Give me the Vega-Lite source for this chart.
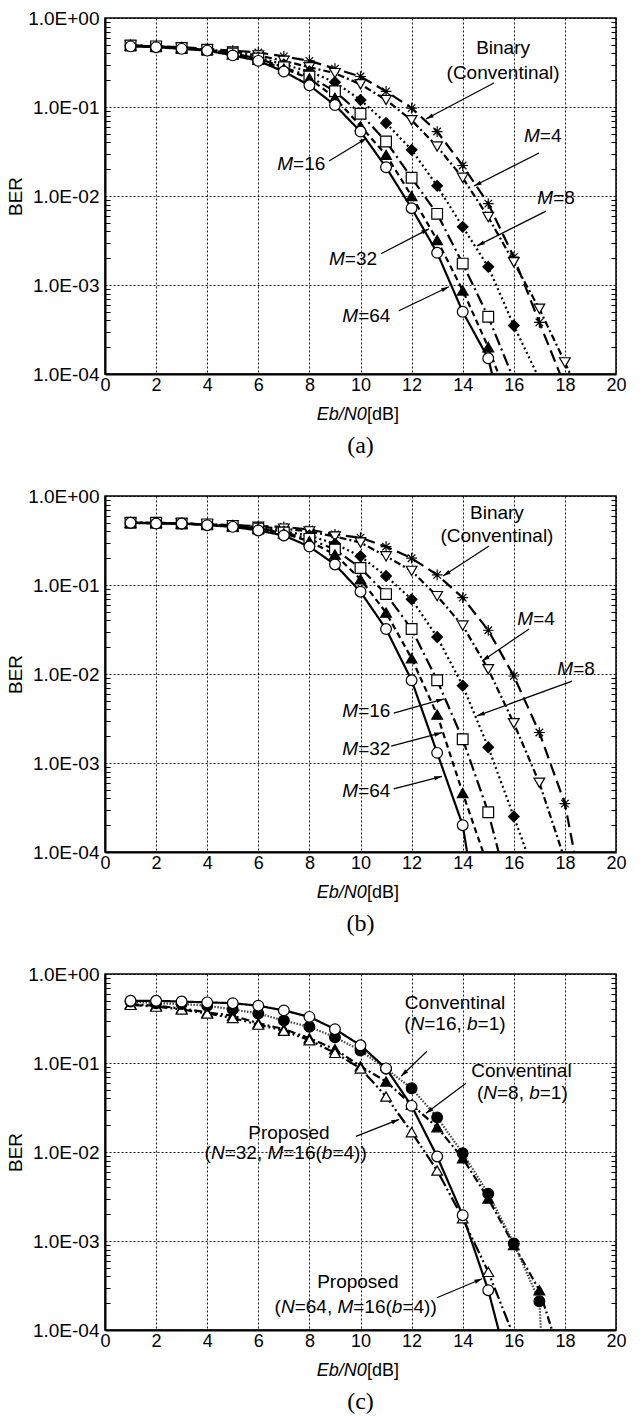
{
"$schema":"https://vega.github.io/schema/vega-lite/v6.json",
"background":"white",
"padding":{"left":5,"top":8,"right":5,"bottom":5},
"spacing":27,
"config":{"font":"Liberation Sans","view":{"stroke":"#000","strokeWidth":1.5},
"axis":{"labelColor":"#000","labelFont":"Liberation Sans","titleFont":"Liberation Sans","titleColor":"#000","domainColor":"#000","gridColor":"#000","gridDash":[2,2],"gridOpacity":0.9,"gridWidth":1,"tickColor":"#000"}},
"datasets":{
"curves":[
{"p":"a","s":"Binary","x":1,"y":0.49},{"p":"a","s":"Binary","x":2,"y":0.48},{"p":"a","s":"Binary","x":3,"y":0.47},{"p":"a","s":"Binary","x":4,"y":0.45},{"p":"a","s":"Binary","x":5,"y":0.43},{"p":"a","s":"Binary","x":6,"y":0.41},{"p":"a","s":"Binary","x":7,"y":0.37},{"p":"a","s":"Binary","x":8,"y":0.33},{"p":"a","s":"Binary","x":9,"y":0.27},{"p":"a","s":"Binary","x":10,"y":0.22},{"p":"a","s":"Binary","x":11,"y":0.15},{"p":"a","s":"Binary","x":12,"y":0.097},{"p":"a","s":"Binary","x":13,"y":0.053},{"p":"a","s":"Binary","x":14,"y":0.022},{"p":"a","s":"Binary","x":15,"y":0.0082},{"p":"a","s":"Binary","x":16,"y":0.00206},{"p":"a","s":"Binary","x":17,"y":0.00038},{"p":"a","s":"Binary","x":19,"y":0.000014},
{"p":"a","s":"M=4","x":1,"y":0.49},{"p":"a","s":"M=4","x":2,"y":0.48},{"p":"a","s":"M=4","x":3,"y":0.46},{"p":"a","s":"M=4","x":4,"y":0.44},{"p":"a","s":"M=4","x":5,"y":0.42},{"p":"a","s":"M=4","x":6,"y":0.38},{"p":"a","s":"M=4","x":7,"y":0.33},{"p":"a","s":"M=4","x":8,"y":0.28},{"p":"a","s":"M=4","x":9,"y":0.24},{"p":"a","s":"M=4","x":10,"y":0.18},{"p":"a","s":"M=4","x":11,"y":0.12},{"p":"a","s":"M=4","x":12,"y":0.071},{"p":"a","s":"M=4","x":13,"y":0.036},{"p":"a","s":"M=4","x":14,"y":0.016},{"p":"a","s":"M=4","x":15,"y":0.0058},{"p":"a","s":"M=4","x":16,"y":0.0018},{"p":"a","s":"M=4","x":17,"y":0.00054},{"p":"a","s":"M=4","x":18,"y":0.000135},{"p":"a","s":"M=4","x":19,"y":0.000032},
{"p":"a","s":"M=8","x":1,"y":0.49},{"p":"a","s":"M=8","x":2,"y":0.48},{"p":"a","s":"M=8","x":3,"y":0.46},{"p":"a","s":"M=8","x":4,"y":0.44},{"p":"a","s":"M=8","x":5,"y":0.40},{"p":"a","s":"M=8","x":6,"y":0.36},{"p":"a","s":"M=8","x":7,"y":0.30},{"p":"a","s":"M=8","x":8,"y":0.25},{"p":"a","s":"M=8","x":9,"y":0.19},{"p":"a","s":"M=8","x":10,"y":0.12},{"p":"a","s":"M=8","x":11,"y":0.066},{"p":"a","s":"M=8","x":12,"y":0.033},{"p":"a","s":"M=8","x":13,"y":0.013},{"p":"a","s":"M=8","x":14,"y":0.0045},{"p":"a","s":"M=8","x":15,"y":0.0016},{"p":"a","s":"M=8","x":16,"y":0.00035},{"p":"a","s":"M=8","x":18,"y":0.000022},
{"p":"a","s":"M=16","x":1,"y":0.49},{"p":"a","s":"M=16","x":2,"y":0.48},{"p":"a","s":"M=16","x":3,"y":0.46},{"p":"a","s":"M=16","x":4,"y":0.44},{"p":"a","s":"M=16","x":5,"y":0.40},{"p":"a","s":"M=16","x":6,"y":0.35},{"p":"a","s":"M=16","x":7,"y":0.28},{"p":"a","s":"M=16","x":8,"y":0.22},{"p":"a","s":"M=16","x":9,"y":0.15},{"p":"a","s":"M=16","x":10,"y":0.084},{"p":"a","s":"M=16","x":11,"y":0.041},{"p":"a","s":"M=16","x":12,"y":0.016},{"p":"a","s":"M=16","x":13,"y":0.0063},{"p":"a","s":"M=16","x":14,"y":0.00174},{"p":"a","s":"M=16","x":15,"y":0.00044},{"p":"a","s":"M=16","x":17,"y":0.000017},
{"p":"a","s":"M=32","x":1,"y":0.49},{"p":"a","s":"M=32","x":2,"y":0.48},{"p":"a","s":"M=32","x":3,"y":0.46},{"p":"a","s":"M=32","x":4,"y":0.44},{"p":"a","s":"M=32","x":5,"y":0.39},{"p":"a","s":"M=32","x":6,"y":0.34},{"p":"a","s":"M=32","x":7,"y":0.27},{"p":"a","s":"M=32","x":8,"y":0.21},{"p":"a","s":"M=32","x":9,"y":0.127},{"p":"a","s":"M=32","x":10,"y":0.061},{"p":"a","s":"M=32","x":11,"y":0.029},{"p":"a","s":"M=32","x":12,"y":0.01},{"p":"a","s":"M=32","x":13,"y":0.0032},{"p":"a","s":"M=32","x":14,"y":0.00087},{"p":"a","s":"M=32","x":15,"y":0.0002},{"p":"a","s":"M=32","x":16,"y":0.000035},
{"p":"a","s":"M=64","x":1,"y":0.48},{"p":"a","s":"M=64","x":2,"y":0.47},{"p":"a","s":"M=64","x":3,"y":0.45},{"p":"a","s":"M=64","x":4,"y":0.43},{"p":"a","s":"M=64","x":5,"y":0.38},{"p":"a","s":"M=64","x":6,"y":0.33},{"p":"a","s":"M=64","x":7,"y":0.25},{"p":"a","s":"M=64","x":8,"y":0.175},{"p":"a","s":"M=64","x":9,"y":0.105},{"p":"a","s":"M=64","x":10,"y":0.053},{"p":"a","s":"M=64","x":11,"y":0.021},{"p":"a","s":"M=64","x":12,"y":0.0073},{"p":"a","s":"M=64","x":13,"y":0.0023},{"p":"a","s":"M=64","x":14,"y":0.0005},{"p":"a","s":"M=64","x":15,"y":0.00015},{"p":"a","s":"M=64","x":16,"y":0.00001},
{"p":"b","s":"Binary","x":1,"y":0.5},{"p":"b","s":"Binary","x":2,"y":0.5},{"p":"b","s":"Binary","x":3,"y":0.49},{"p":"b","s":"Binary","x":4,"y":0.48},{"p":"b","s":"Binary","x":5,"y":0.47},{"p":"b","s":"Binary","x":6,"y":0.46},{"p":"b","s":"Binary","x":7,"y":0.45},{"p":"b","s":"Binary","x":8,"y":0.42},{"p":"b","s":"Binary","x":9,"y":0.37},{"p":"b","s":"Binary","x":10,"y":0.34},{"p":"b","s":"Binary","x":11,"y":0.27},{"p":"b","s":"Binary","x":12,"y":0.20},{"p":"b","s":"Binary","x":13,"y":0.13},{"p":"b","s":"Binary","x":14,"y":0.072},{"p":"b","s":"Binary","x":15,"y":0.031},{"p":"b","s":"Binary","x":16,"y":0.0095},{"p":"b","s":"Binary","x":17,"y":0.0022},{"p":"b","s":"Binary","x":18,"y":0.00035},{"p":"b","s":"Binary","x":19,"y":0.000011},
{"p":"b","s":"M=4","x":1,"y":0.5},{"p":"b","s":"M=4","x":2,"y":0.5},{"p":"b","s":"M=4","x":3,"y":0.49},{"p":"b","s":"M=4","x":4,"y":0.48},{"p":"b","s":"M=4","x":5,"y":0.47},{"p":"b","s":"M=4","x":6,"y":0.45},{"p":"b","s":"M=4","x":7,"y":0.43},{"p":"b","s":"M=4","x":8,"y":0.40},{"p":"b","s":"M=4","x":9,"y":0.35},{"p":"b","s":"M=4","x":10,"y":0.30},{"p":"b","s":"M=4","x":11,"y":0.21},{"p":"b","s":"M=4","x":12,"y":0.144},{"p":"b","s":"M=4","x":13,"y":0.075},{"p":"b","s":"M=4","x":14,"y":0.035},{"p":"b","s":"M=4","x":15,"y":0.0113},{"p":"b","s":"M=4","x":16,"y":0.0028},{"p":"b","s":"M=4","x":17,"y":0.0006},{"p":"b","s":"M=4","x":19,"y":0.000011},
{"p":"b","s":"M=8","x":1,"y":0.5},{"p":"b","s":"M=8","x":2,"y":0.5},{"p":"b","s":"M=8","x":3,"y":0.49},{"p":"b","s":"M=8","x":4,"y":0.48},{"p":"b","s":"M=8","x":5,"y":0.46},{"p":"b","s":"M=8","x":6,"y":0.44},{"p":"b","s":"M=8","x":7,"y":0.40},{"p":"b","s":"M=8","x":8,"y":0.36},{"p":"b","s":"M=8","x":9,"y":0.29},{"p":"b","s":"M=8","x":10,"y":0.21},{"p":"b","s":"M=8","x":11,"y":0.126},{"p":"b","s":"M=8","x":12,"y":0.069},{"p":"b","s":"M=8","x":13,"y":0.026},{"p":"b","s":"M=8","x":14,"y":0.0074},{"p":"b","s":"M=8","x":15,"y":0.0015},{"p":"b","s":"M=8","x":16,"y":0.00025},{"p":"b","s":"M=8","x":17,"y":0.00004},
{"p":"b","s":"M=16","x":1,"y":0.5},{"p":"b","s":"M=16","x":2,"y":0.5},{"p":"b","s":"M=16","x":3,"y":0.49},{"p":"b","s":"M=16","x":4,"y":0.48},{"p":"b","s":"M=16","x":5,"y":0.46},{"p":"b","s":"M=16","x":6,"y":0.43},{"p":"b","s":"M=16","x":7,"y":0.39},{"p":"b","s":"M=16","x":8,"y":0.33},{"p":"b","s":"M=16","x":9,"y":0.25},{"p":"b","s":"M=16","x":10,"y":0.155},{"p":"b","s":"M=16","x":11,"y":0.079},{"p":"b","s":"M=16","x":12,"y":0.032},{"p":"b","s":"M=16","x":13,"y":0.0085},{"p":"b","s":"M=16","x":14,"y":0.00185},{"p":"b","s":"M=16","x":15,"y":0.00028},{"p":"b","s":"M=16","x":16,"y":0.000022},
{"p":"b","s":"M=32","x":1,"y":0.5},{"p":"b","s":"M=32","x":2,"y":0.5},{"p":"b","s":"M=32","x":3,"y":0.49},{"p":"b","s":"M=32","x":4,"y":0.48},{"p":"b","s":"M=32","x":5,"y":0.46},{"p":"b","s":"M=32","x":6,"y":0.43},{"p":"b","s":"M=32","x":7,"y":0.38},{"p":"b","s":"M=32","x":8,"y":0.31},{"p":"b","s":"M=32","x":9,"y":0.22},{"p":"b","s":"M=32","x":10,"y":0.116},{"p":"b","s":"M=32","x":11,"y":0.049},{"p":"b","s":"M=32","x":12,"y":0.015},{"p":"b","s":"M=32","x":13,"y":0.0035},{"p":"b","s":"M=32","x":14,"y":0.00046},{"p":"b","s":"M=32","x":16,"y":0.00001},
{"p":"b","s":"M=64","x":1,"y":0.5},{"p":"b","s":"M=64","x":2,"y":0.49},{"p":"b","s":"M=64","x":3,"y":0.49},{"p":"b","s":"M=64","x":4,"y":0.47},{"p":"b","s":"M=64","x":5,"y":0.45},{"p":"b","s":"M=64","x":6,"y":0.41},{"p":"b","s":"M=64","x":7,"y":0.36},{"p":"b","s":"M=64","x":8,"y":0.27},{"p":"b","s":"M=64","x":9,"y":0.17},{"p":"b","s":"M=64","x":10,"y":0.084},{"p":"b","s":"M=64","x":11,"y":0.032},{"p":"b","s":"M=64","x":12,"y":0.0085},{"p":"b","s":"M=64","x":13,"y":0.0013},{"p":"b","s":"M=64","x":14,"y":0.0002},{"p":"b","s":"M=64","x":15,"y":0.0000035},
{"p":"c","s":"Conv8","x":1,"y":0.46},{"p":"c","s":"Conv8","x":2,"y":0.44},{"p":"c","s":"Conv8","x":3,"y":0.41},{"p":"c","s":"Conv8","x":4,"y":0.37},{"p":"c","s":"Conv8","x":5,"y":0.34},{"p":"c","s":"Conv8","x":6,"y":0.28},{"p":"c","s":"Conv8","x":7,"y":0.24},{"p":"c","s":"Conv8","x":8,"y":0.19},{"p":"c","s":"Conv8","x":9,"y":0.143},{"p":"c","s":"Conv8","x":10,"y":0.092},{"p":"c","s":"Conv8","x":11,"y":0.062},{"p":"c","s":"Conv8","x":12,"y":0.034},{"p":"c","s":"Conv8","x":13,"y":0.019},{"p":"c","s":"Conv8","x":14,"y":0.0085},{"p":"c","s":"Conv8","x":15,"y":0.003},{"p":"c","s":"Conv8","x":16,"y":0.0009},{"p":"c","s":"Conv8","x":17,"y":0.00028},{"p":"c","s":"Conv8","x":18,"y":0.000035},
{"p":"c","s":"Prop32","x":1,"y":0.45},{"p":"c","s":"Prop32","x":2,"y":0.43},{"p":"c","s":"Prop32","x":3,"y":0.40},{"p":"c","s":"Prop32","x":4,"y":0.36},{"p":"c","s":"Prop32","x":5,"y":0.32},{"p":"c","s":"Prop32","x":6,"y":0.27},{"p":"c","s":"Prop32","x":7,"y":0.23},{"p":"c","s":"Prop32","x":8,"y":0.18},{"p":"c","s":"Prop32","x":9,"y":0.13},{"p":"c","s":"Prop32","x":10,"y":0.087},{"p":"c","s":"Prop32","x":11,"y":0.042},{"p":"c","s":"Prop32","x":12,"y":0.0167},{"p":"c","s":"Prop32","x":13,"y":0.0062},{"p":"c","s":"Prop32","x":14,"y":0.0018},{"p":"c","s":"Prop32","x":15,"y":0.00045},{"p":"c","s":"Prop32","x":17,"y":0.000016},
{"p":"c","s":"Conv16","x":1,"y":0.49},{"p":"c","s":"Conv16","x":2,"y":0.47},{"p":"c","s":"Conv16","x":3,"y":0.46},{"p":"c","s":"Conv16","x":4,"y":0.44},{"p":"c","s":"Conv16","x":5,"y":0.40},{"p":"c","s":"Conv16","x":6,"y":0.36},{"p":"c","s":"Conv16","x":7,"y":0.30},{"p":"c","s":"Conv16","x":8,"y":0.255},{"p":"c","s":"Conv16","x":9,"y":0.195},{"p":"c","s":"Conv16","x":10,"y":0.138},{"p":"c","s":"Conv16","x":11,"y":0.086},{"p":"c","s":"Conv16","x":12,"y":0.052},{"p":"c","s":"Conv16","x":13,"y":0.0245},{"p":"c","s":"Conv16","x":14,"y":0.0097},{"p":"c","s":"Conv16","x":15,"y":0.0034},{"p":"c","s":"Conv16","x":16,"y":0.00094},{"p":"c","s":"Conv16","x":17,"y":0.00021},{"p":"c","s":"Conv16","x":18,"y":0.000000001},
{"p":"c","s":"Prop64","x":1,"y":0.5},{"p":"c","s":"Prop64","x":2,"y":0.5},{"p":"c","s":"Prop64","x":3,"y":0.49},{"p":"c","s":"Prop64","x":4,"y":0.48},{"p":"c","s":"Prop64","x":5,"y":0.47},{"p":"c","s":"Prop64","x":6,"y":0.44},{"p":"c","s":"Prop64","x":7,"y":0.39},{"p":"c","s":"Prop64","x":8,"y":0.33},{"p":"c","s":"Prop64","x":9,"y":0.24},{"p":"c","s":"Prop64","x":10,"y":0.158},{"p":"c","s":"Prop64","x":11,"y":0.087},{"p":"c","s":"Prop64","x":12,"y":0.033},{"p":"c","s":"Prop64","x":13,"y":0.0089},{"p":"c","s":"Prop64","x":14,"y":0.00195},{"p":"c","s":"Prop64","x":15,"y":0.00028},{"p":"c","s":"Prop64","x":16,"y":0.000022}
],
"arrows":[
{"p":"a","x1":15.22,"y1":0.1862,"x2":12.56,"y2":0.0733},{"p":"a","x1":16.99,"y1":0.0304,"x2":14.44,"y2":0.01294},{"p":"a","x1":17.26,"y1":0.00676,"x2":14.56,"y2":0.00275},{"p":"a","x1":8.77,"y1":0.0247,"x2":10.25,"y2":0.0449},{"p":"a","x1":10.8,"y1":0.00224,"x2":12.68,"y2":0.00427},{"p":"a","x1":11.5,"y1":0.000513,"x2":13.46,"y2":0.000955},
{"p":"b","x1":15.03,"y1":0.274,"x2":13.23,"y2":0.1259},{"p":"b","x1":16.6,"y1":0.0321,"x2":14.76,"y2":0.014},{"p":"b","x1":18.28,"y1":0.00832,"x2":14.56,"y2":0.00339},{"p":"b","x1":11.3,"y1":0.00363,"x2":13.27,"y2":0.00525},{"p":"b","x1":11.2,"y1":0.00155,"x2":13.19,"y2":0.00219},{"p":"b","x1":11.3,"y1":0.000513,"x2":13.19,"y2":0.000708},
{"p":"c","x1":12.6,"y1":0.1355,"x2":11.59,"y2":0.071},{"p":"c","x1":14.13,"y1":0.0592,"x2":12.56,"y2":0.0272},{"p":"c","x1":9.82,"y1":0.01496,"x2":11.51,"y2":0.02323},{"p":"c","x1":12.99,"y1":0.00023,"x2":14.76,"y2":0.000376}
],
"lab_c":[
{"p":"a","x":15.58,"y":0.46,"t":"Binary"},{"p":"a","x":15.58,"y":0.241,"t":"(Conventinal)"},
{"p":"b","x":15.34,"y":0.644,"t":"Binary"},{"p":"b","x":15.34,"y":0.356,"t":"(Conventinal)"},
{"p":"c","x":13.7,"y":0.471,"t":"Conventinal"},{"p":"c","x":16.3,"y":0.0807,"t":"Conventinal"},{"p":"c","x":7.2,"y":0.01615,"t":"Proposed"},{"p":"c","x":9.895,"y":0.000347,"t":"Proposed"}
],
"lab_it":[
{"p":"a","x":6.744,"y":0.0229,"t":"M"},{"p":"a","x":8.767,"y":0.00196,"t":"M"},{"p":"a","x":9.289,"y":0.000449,"t":"M"},{"p":"a","x":16.4,"y":0.0472,"t":"M"},{"p":"a","x":16.92,"y":0.0095,"t":"M"},
{"p":"b","x":16.138,"y":0.0415,"t":"M"},{"p":"b","x":17.703,"y":0.01138,"t":"M"},{"p":"b","x":9.289,"y":0.00384,"t":"M"},{"p":"b","x":9.289,"y":0.001435,"t":"M"},{"p":"b","x":9.289,"y":0.000484,"t":"M"},
{"p":"c","x":11.958,"y":0.2733,"t":"N"},{"p":"c","x":14.17,"y":0.2733,"t":"b"},
{"p":"c","x":14.804,"y":0.0456,"t":"N"},{"p":"c","x":16.602,"y":0.0456,"t":"b"},
{"p":"c","x":4.146,"y":0.00962,"t":"N"},{"p":"c","x":6.358,"y":0.00962,"t":"M"},{"p":"c","x":8.487,"y":0.00962,"t":"b"},
{"p":"c","x":6.886,"y":0.000182,"t":"N"},{"p":"c","x":9.097,"y":0.000182,"t":"M"},{"p":"c","x":11.226,"y":0.000182,"t":"b"}
],
"lab_rm":[
{"p":"a","x":7.363,"y":0.0229,"t":"=16"},{"p":"a","x":9.386,"y":0.00196,"t":"=32"},{"p":"a","x":9.908,"y":0.000449,"t":"=64"},{"p":"a","x":17.018,"y":0.0472,"t":"=4"},{"p":"a","x":17.54,"y":0.0095,"t":"=8"},
{"p":"b","x":16.757,"y":0.0415,"t":"=4"},{"p":"b","x":18.325,"y":0.01138,"t":"=8"},{"p":"b","x":9.908,"y":0.00384,"t":"=16"},{"p":"b","x":9.908,"y":0.001435,"t":"=32"},{"p":"b","x":9.908,"y":0.000484,"t":"=64"},
{"p":"c","x":11.71,"y":0.2733,"t":"("},{"p":"c","x":12.495,"y":0.2733,"t":"=16,"},{"p":"c","x":14.583,"y":0.2733,"t":"=1)"},
{"p":"c","x":14.556,"y":0.0456,"t":"("},{"p":"c","x":15.341,"y":0.0456,"t":"=8,"},{"p":"c","x":17.015,"y":0.0456,"t":"=1)"},
{"p":"c","x":3.898,"y":0.00962,"t":"("},{"p":"c","x":4.683,"y":0.00962,"t":"=32,"},{"p":"c","x":6.977,"y":0.00962,"t":"=16("},{"p":"c","x":8.9,"y":0.00962,"t":"=4))"},
{"p":"c","x":6.638,"y":0.000182,"t":"("},{"p":"c","x":7.423,"y":0.000182,"t":"=64,"},{"p":"c","x":9.717,"y":0.000182,"t":"=16("},{"p":"c","x":11.64,"y":0.000182,"t":"=4))"}
],
"xt_it":[{"x":10.25,"y":0.000035,"t":"Eb/N0"}],
"xt_rm":[{"x":10.25,"y":0.000035,"t":"[dB]"}]
},
"vconcat":[
{"width":511,"height":356,
"title":{"text":"(a)","orient":"bottom","anchor":"middle","font":"Liberation Serif","fontSize":24,"fontWeight":"normal","color":"#000","offset":10},
"resolve":{"axis":{"x":"independent","y":"independent"}},
"layer":[
{"data":{"name":"curves"},"transform":[{"filter":"datum.p == 'a'"}],
"mark":{"type":"line","clip":true,"strokeWidth":2.2},
"encoding":{
"x":{"field":"x","type":"quantitative","scale":{"domain":[0,20],"nice":false,"zero":false},"axis":{"values":[0,2,4,6,8,10,12,14,16,18,20],"grid":true,"ticks":false,"labelFontSize":18,"labelPadding":2,"labelFlush":false,"title":null,"domainWidth":2}},
"y":{"field":"y","type":"quantitative","scale":{"type":"log","domain":[0.0001,1],"nice":false},"axis":{"orient":"left","values":[1,0.1,0.01,0.001,0.0001],"labelExpr":"datum.value > 0.5 ? '1.0E+00' : '1.0E-0' + round(-log(datum.value)/LN10)","ticks":false,"grid":true,"domainWidth":2,"labelFontSize":19,"labelPadding":6,"title":"BER","titleFontSize":19,"titleFontWeight":"normal","titlePadding":2}},
"strokeDash":{"field":"s","type":"nominal","legend":null,"scale":{"domain":["Binary","M=4","M=8","M=16","M=32","M=64","Conv16","Conv8","Prop32","Prop64"],"range":[[12,6],[7,3,2,3],[2,3],[12,4,2,4],[6,4],[1,0],[1.5,1.5],[8,3,2,3],[12,3,2,3,2,3],[1,0]]}},
"stroke":{"field":"s","type":"nominal","legend":null,"scale":{"domain":["Binary","M=4","M=8","M=16","M=32","M=64","Conv16","Conv8","Prop32","Prop64"],"range":["#000","#000","#000","#000","#000","#000","#444","#000","#000","#000"]}}}},
{"data":{"name":"curves"},"transform":[{"filter":"datum.p == 'a'"}],
"mark":{"type":"point","clip":true,"filled":true,"size":115,"stroke":"#000","strokeWidth":1.2,"opacity":1},
"encoding":{
"x":{"field":"x","type":"quantitative","scale":{"domain":[0,20],"nice":false,"zero":false},"axis":null},
"y":{"field":"y","type":"quantitative","scale":{"type":"log","domain":[0.0001,1],"nice":false},"axis":{"orient":"left","values":[0.9,0.8,0.7,0.6,0.5,0.4,0.3,0.2,0.09,0.08,0.07,0.06,0.05,0.04,0.03,0.02,0.009,0.008,0.007,0.006,0.005,0.004,0.003,0.002,0.0009,0.0008,0.0007,0.0006,0.0005,0.0004,0.0003,0.0002],"labels":false,"grid":false,"domain":false,"ticks":true,"tickSize":-5,"tickWidth":1,"title":null}},
"shape":{"field":"s","type":"nominal","legend":null,"scale":{"domain":["Binary","M=4","M=8","M=16","M=32","M=64","Conv16","Conv8","Prop32","Prop64"],"range":["M-1,0L1,0M0,-1L0,1M-0.7,-0.7L0.7,0.7M-0.7,0.7L0.7,-0.7","triangle-down","diamond","square","triangle-up","circle","circle","triangle-up","triangle-up","circle"]}},
"fill":{"field":"s","type":"nominal","legend":null,"scale":{"domain":["Binary","M=4","M=8","M=16","M=32","M=64","Conv16","Conv8","Prop32","Prop64"],"range":["#fff","#fff","#000","#fff","#000","#fff","#000","#000","#fff","#fff"]}}}},
{"data":{"name":"arrows"},"transform":[{"filter":"datum.p == 'a'"}],
"mark":{"type":"rule","color":"#000","strokeWidth":1.2},
"encoding":{
"x":{"field":"x1","type":"quantitative","scale":{"domain":[0,20],"nice":false,"zero":false},"axis":null},
"y":{"field":"y1","type":"quantitative","scale":{"type":"log","domain":[0.0001,1],"nice":false},"axis":{"orient":"right","values":[0.9,0.8,0.7,0.6,0.5,0.4,0.3,0.2,0.09,0.08,0.07,0.06,0.05,0.04,0.03,0.02,0.009,0.008,0.007,0.006,0.005,0.004,0.003,0.002,0.0009,0.0008,0.0007,0.0006,0.0005,0.0004,0.0003,0.0002],"labels":false,"grid":false,"domain":false,"ticks":true,"tickSize":-5,"tickWidth":1,"title":null}},
"x2":{"field":"x2"},"y2":{"field":"y2"}}},
{"data":{"name":"arrows"},"transform":[{"filter":"datum.p == 'a'"},{"calculate":"atan2(-(log(datum.y2)-log(datum.y1))/LN10*89, (datum.x2-datum.x1)*25.55)*180/PI","as":"ang"}],
"mark":{"type":"point","shape":"M0,0L-2,-0.55L-2,0.55Z","filled":true,"color":"#000","size":60,"opacity":1},
"encoding":{
"x":{"field":"x2","type":"quantitative","axis":null},
"y":{"field":"y2","type":"quantitative","axis":null},
"angle":{"field":"ang","type":"quantitative","scale":null}}},
{"data":{"name":"lab_c"},"transform":[{"filter":"datum.p == 'a'"}],
"mark":{"type":"text","font":"Liberation Sans","fontSize":19,"align":"center","baseline":"middle","color":"#000"},
"encoding":{"x":{"field":"x","type":"quantitative","axis":null},"y":{"field":"y","type":"quantitative","axis":null},"text":{"field":"t"}}},
{"data":{"name":"lab_it"},"transform":[{"filter":"datum.p == 'a'"}],
"mark":{"type":"text","font":"Liberation Sans","fontSize":19,"fontStyle":"italic","align":"left","baseline":"middle","color":"#000"},
"encoding":{"x":{"field":"x","type":"quantitative","axis":null},"y":{"field":"y","type":"quantitative","axis":null},"text":{"field":"t"}}},
{"data":{"name":"lab_rm"},"transform":[{"filter":"datum.p == 'a'"}],
"mark":{"type":"text","font":"Liberation Sans","fontSize":19,"align":"left","baseline":"middle","color":"#000"},
"encoding":{"x":{"field":"x","type":"quantitative","axis":null},"y":{"field":"y","type":"quantitative","axis":null},"text":{"field":"t"}}},
{"data":{"name":"xt_it"},
"mark":{"type":"text","font":"Liberation Sans","fontSize":18,"fontStyle":"italic","align":"right","baseline":"middle","color":"#000"},
"encoding":{"x":{"field":"x","type":"quantitative","axis":null},"y":{"field":"y","type":"quantitative","axis":null},"text":{"field":"t"}}},
{"data":{"name":"xt_rm"},
"mark":{"type":"text","font":"Liberation Sans","fontSize":18,"align":"left","baseline":"middle","color":"#000"},
"encoding":{"x":{"field":"x","type":"quantitative","axis":null},"y":{"field":"y","type":"quantitative","axis":null},"text":{"field":"t"}}}
]},
{"width":511,"height":356,
"title":{"text":"(b)","orient":"bottom","anchor":"middle","font":"Liberation Serif","fontSize":24,"fontWeight":"normal","color":"#000","offset":10},
"resolve":{"axis":{"x":"independent","y":"independent"}},
"layer":[
{"data":{"name":"curves"},"transform":[{"filter":"datum.p == 'b'"}],
"mark":{"type":"line","clip":true,"strokeWidth":2.2},
"encoding":{
"x":{"field":"x","type":"quantitative","scale":{"domain":[0,20],"nice":false,"zero":false},"axis":{"values":[0,2,4,6,8,10,12,14,16,18,20],"grid":true,"ticks":false,"labelFontSize":18,"labelPadding":2,"labelFlush":false,"title":null,"domainWidth":2}},
"y":{"field":"y","type":"quantitative","scale":{"type":"log","domain":[0.0001,1],"nice":false},"axis":{"orient":"left","values":[1,0.1,0.01,0.001,0.0001],"labelExpr":"datum.value > 0.5 ? '1.0E+00' : '1.0E-0' + round(-log(datum.value)/LN10)","ticks":false,"grid":true,"domainWidth":2,"labelFontSize":19,"labelPadding":6,"title":"BER","titleFontSize":19,"titleFontWeight":"normal","titlePadding":2}},
"strokeDash":{"field":"s","type":"nominal","legend":null,"scale":{"domain":["Binary","M=4","M=8","M=16","M=32","M=64","Conv16","Conv8","Prop32","Prop64"],"range":[[12,6],[7,3,2,3],[2,3],[12,4,2,4],[6,4],[1,0],[1.5,1.5],[8,3,2,3],[12,3,2,3,2,3],[1,0]]}},
"stroke":{"field":"s","type":"nominal","legend":null,"scale":{"domain":["Binary","M=4","M=8","M=16","M=32","M=64","Conv16","Conv8","Prop32","Prop64"],"range":["#000","#000","#000","#000","#000","#000","#444","#000","#000","#000"]}}}},
{"data":{"name":"curves"},"transform":[{"filter":"datum.p == 'b'"}],
"mark":{"type":"point","clip":true,"filled":true,"size":115,"stroke":"#000","strokeWidth":1.2,"opacity":1},
"encoding":{
"x":{"field":"x","type":"quantitative","scale":{"domain":[0,20],"nice":false,"zero":false},"axis":null},
"y":{"field":"y","type":"quantitative","scale":{"type":"log","domain":[0.0001,1],"nice":false},"axis":{"orient":"left","values":[0.9,0.8,0.7,0.6,0.5,0.4,0.3,0.2,0.09,0.08,0.07,0.06,0.05,0.04,0.03,0.02,0.009,0.008,0.007,0.006,0.005,0.004,0.003,0.002,0.0009,0.0008,0.0007,0.0006,0.0005,0.0004,0.0003,0.0002],"labels":false,"grid":false,"domain":false,"ticks":true,"tickSize":-5,"tickWidth":1,"title":null}},
"shape":{"field":"s","type":"nominal","legend":null,"scale":{"domain":["Binary","M=4","M=8","M=16","M=32","M=64","Conv16","Conv8","Prop32","Prop64"],"range":["M-1,0L1,0M0,-1L0,1M-0.7,-0.7L0.7,0.7M-0.7,0.7L0.7,-0.7","triangle-down","diamond","square","triangle-up","circle","circle","triangle-up","triangle-up","circle"]}},
"fill":{"field":"s","type":"nominal","legend":null,"scale":{"domain":["Binary","M=4","M=8","M=16","M=32","M=64","Conv16","Conv8","Prop32","Prop64"],"range":["#fff","#fff","#000","#fff","#000","#fff","#000","#000","#fff","#fff"]}}}},
{"data":{"name":"arrows"},"transform":[{"filter":"datum.p == 'b'"}],
"mark":{"type":"rule","color":"#000","strokeWidth":1.2},
"encoding":{
"x":{"field":"x1","type":"quantitative","scale":{"domain":[0,20],"nice":false,"zero":false},"axis":null},
"y":{"field":"y1","type":"quantitative","scale":{"type":"log","domain":[0.0001,1],"nice":false},"axis":{"orient":"right","values":[0.9,0.8,0.7,0.6,0.5,0.4,0.3,0.2,0.09,0.08,0.07,0.06,0.05,0.04,0.03,0.02,0.009,0.008,0.007,0.006,0.005,0.004,0.003,0.002,0.0009,0.0008,0.0007,0.0006,0.0005,0.0004,0.0003,0.0002],"labels":false,"grid":false,"domain":false,"ticks":true,"tickSize":-5,"tickWidth":1,"title":null}},
"x2":{"field":"x2"},"y2":{"field":"y2"}}},
{"data":{"name":"arrows"},"transform":[{"filter":"datum.p == 'b'"},{"calculate":"atan2(-(log(datum.y2)-log(datum.y1))/LN10*89, (datum.x2-datum.x1)*25.55)*180/PI","as":"ang"}],
"mark":{"type":"point","shape":"M0,0L-2,-0.55L-2,0.55Z","filled":true,"color":"#000","size":60,"opacity":1},
"encoding":{
"x":{"field":"x2","type":"quantitative","axis":null},
"y":{"field":"y2","type":"quantitative","axis":null},
"angle":{"field":"ang","type":"quantitative","scale":null}}},
{"data":{"name":"lab_c"},"transform":[{"filter":"datum.p == 'b'"}],
"mark":{"type":"text","font":"Liberation Sans","fontSize":19,"align":"center","baseline":"middle","color":"#000"},
"encoding":{"x":{"field":"x","type":"quantitative","axis":null},"y":{"field":"y","type":"quantitative","axis":null},"text":{"field":"t"}}},
{"data":{"name":"lab_it"},"transform":[{"filter":"datum.p == 'b'"}],
"mark":{"type":"text","font":"Liberation Sans","fontSize":19,"fontStyle":"italic","align":"left","baseline":"middle","color":"#000"},
"encoding":{"x":{"field":"x","type":"quantitative","axis":null},"y":{"field":"y","type":"quantitative","axis":null},"text":{"field":"t"}}},
{"data":{"name":"lab_rm"},"transform":[{"filter":"datum.p == 'b'"}],
"mark":{"type":"text","font":"Liberation Sans","fontSize":19,"align":"left","baseline":"middle","color":"#000"},
"encoding":{"x":{"field":"x","type":"quantitative","axis":null},"y":{"field":"y","type":"quantitative","axis":null},"text":{"field":"t"}}},
{"data":{"name":"xt_it"},
"mark":{"type":"text","font":"Liberation Sans","fontSize":18,"fontStyle":"italic","align":"right","baseline":"middle","color":"#000"},
"encoding":{"x":{"field":"x","type":"quantitative","axis":null},"y":{"field":"y","type":"quantitative","axis":null},"text":{"field":"t"}}},
{"data":{"name":"xt_rm"},
"mark":{"type":"text","font":"Liberation Sans","fontSize":18,"align":"left","baseline":"middle","color":"#000"},
"encoding":{"x":{"field":"x","type":"quantitative","axis":null},"y":{"field":"y","type":"quantitative","axis":null},"text":{"field":"t"}}}
]},
{"width":511,"height":356,
"title":{"text":"(c)","orient":"bottom","anchor":"middle","font":"Liberation Serif","fontSize":24,"fontWeight":"normal","color":"#000","offset":10},
"resolve":{"axis":{"x":"independent","y":"independent"}},
"layer":[
{"data":{"name":"curves"},"transform":[{"filter":"datum.p == 'c'"}],
"mark":{"type":"line","clip":true,"strokeWidth":2.2},
"encoding":{
"x":{"field":"x","type":"quantitative","scale":{"domain":[0,20],"nice":false,"zero":false},"axis":{"values":[0,2,4,6,8,10,12,14,16,18,20],"grid":true,"ticks":false,"labelFontSize":18,"labelPadding":2,"labelFlush":false,"title":null,"domainWidth":2}},
"y":{"field":"y","type":"quantitative","scale":{"type":"log","domain":[0.0001,1],"nice":false},"axis":{"orient":"left","values":[1,0.1,0.01,0.001,0.0001],"labelExpr":"datum.value > 0.5 ? '1.0E+00' : '1.0E-0' + round(-log(datum.value)/LN10)","ticks":false,"grid":true,"domainWidth":2,"labelFontSize":19,"labelPadding":6,"title":"BER","titleFontSize":19,"titleFontWeight":"normal","titlePadding":2}},
"strokeDash":{"field":"s","type":"nominal","legend":null,"scale":{"domain":["Binary","M=4","M=8","M=16","M=32","M=64","Conv16","Conv8","Prop32","Prop64"],"range":[[12,6],[7,3,2,3],[2,3],[12,4,2,4],[6,4],[1,0],[1.5,1.5],[8,3,2,3],[12,3,2,3,2,3],[1,0]]}},
"stroke":{"field":"s","type":"nominal","legend":null,"scale":{"domain":["Binary","M=4","M=8","M=16","M=32","M=64","Conv16","Conv8","Prop32","Prop64"],"range":["#000","#000","#000","#000","#000","#000","#444","#000","#000","#000"]}}}},
{"data":{"name":"curves"},"transform":[{"filter":"datum.p == 'c'"}],
"mark":{"type":"point","clip":true,"filled":true,"size":115,"stroke":"#000","strokeWidth":1.2,"opacity":1},
"encoding":{
"x":{"field":"x","type":"quantitative","scale":{"domain":[0,20],"nice":false,"zero":false},"axis":null},
"y":{"field":"y","type":"quantitative","scale":{"type":"log","domain":[0.0001,1],"nice":false},"axis":{"orient":"left","values":[0.9,0.8,0.7,0.6,0.5,0.4,0.3,0.2,0.09,0.08,0.07,0.06,0.05,0.04,0.03,0.02,0.009,0.008,0.007,0.006,0.005,0.004,0.003,0.002,0.0009,0.0008,0.0007,0.0006,0.0005,0.0004,0.0003,0.0002],"labels":false,"grid":false,"domain":false,"ticks":true,"tickSize":-5,"tickWidth":1,"title":null}},
"shape":{"field":"s","type":"nominal","legend":null,"scale":{"domain":["Binary","M=4","M=8","M=16","M=32","M=64","Conv16","Conv8","Prop32","Prop64"],"range":["M-1,0L1,0M0,-1L0,1M-0.7,-0.7L0.7,0.7M-0.7,0.7L0.7,-0.7","triangle-down","diamond","square","triangle-up","circle","circle","triangle-up","triangle-up","circle"]}},
"fill":{"field":"s","type":"nominal","legend":null,"scale":{"domain":["Binary","M=4","M=8","M=16","M=32","M=64","Conv16","Conv8","Prop32","Prop64"],"range":["#fff","#fff","#000","#fff","#000","#fff","#000","#000","#fff","#fff"]}}}},
{"data":{"name":"arrows"},"transform":[{"filter":"datum.p == 'c'"}],
"mark":{"type":"rule","color":"#000","strokeWidth":1.2},
"encoding":{
"x":{"field":"x1","type":"quantitative","scale":{"domain":[0,20],"nice":false,"zero":false},"axis":null},
"y":{"field":"y1","type":"quantitative","scale":{"type":"log","domain":[0.0001,1],"nice":false},"axis":{"orient":"right","values":[0.9,0.8,0.7,0.6,0.5,0.4,0.3,0.2,0.09,0.08,0.07,0.06,0.05,0.04,0.03,0.02,0.009,0.008,0.007,0.006,0.005,0.004,0.003,0.002,0.0009,0.0008,0.0007,0.0006,0.0005,0.0004,0.0003,0.0002],"labels":false,"grid":false,"domain":false,"ticks":true,"tickSize":-5,"tickWidth":1,"title":null}},
"x2":{"field":"x2"},"y2":{"field":"y2"}}},
{"data":{"name":"arrows"},"transform":[{"filter":"datum.p == 'c'"},{"calculate":"atan2(-(log(datum.y2)-log(datum.y1))/LN10*89, (datum.x2-datum.x1)*25.55)*180/PI","as":"ang"}],
"mark":{"type":"point","shape":"M0,0L-2,-0.55L-2,0.55Z","filled":true,"color":"#000","size":60,"opacity":1},
"encoding":{
"x":{"field":"x2","type":"quantitative","axis":null},
"y":{"field":"y2","type":"quantitative","axis":null},
"angle":{"field":"ang","type":"quantitative","scale":null}}},
{"data":{"name":"lab_c"},"transform":[{"filter":"datum.p == 'c'"}],
"mark":{"type":"text","font":"Liberation Sans","fontSize":19,"align":"center","baseline":"middle","color":"#000"},
"encoding":{"x":{"field":"x","type":"quantitative","axis":null},"y":{"field":"y","type":"quantitative","axis":null},"text":{"field":"t"}}},
{"data":{"name":"lab_it"},"transform":[{"filter":"datum.p == 'c'"}],
"mark":{"type":"text","font":"Liberation Sans","fontSize":19,"fontStyle":"italic","align":"left","baseline":"middle","color":"#000"},
"encoding":{"x":{"field":"x","type":"quantitative","axis":null},"y":{"field":"y","type":"quantitative","axis":null},"text":{"field":"t"}}},
{"data":{"name":"lab_rm"},"transform":[{"filter":"datum.p == 'c'"}],
"mark":{"type":"text","font":"Liberation Sans","fontSize":19,"align":"left","baseline":"middle","color":"#000"},
"encoding":{"x":{"field":"x","type":"quantitative","axis":null},"y":{"field":"y","type":"quantitative","axis":null},"text":{"field":"t"}}},
{"data":{"name":"xt_it"},
"mark":{"type":"text","font":"Liberation Sans","fontSize":18,"fontStyle":"italic","align":"right","baseline":"middle","color":"#000"},
"encoding":{"x":{"field":"x","type":"quantitative","axis":null},"y":{"field":"y","type":"quantitative","axis":null},"text":{"field":"t"}}},
{"data":{"name":"xt_rm"},
"mark":{"type":"text","font":"Liberation Sans","fontSize":18,"align":"left","baseline":"middle","color":"#000"},
"encoding":{"x":{"field":"x","type":"quantitative","axis":null},"y":{"field":"y","type":"quantitative","axis":null},"text":{"field":"t"}}}
]}
]
}
